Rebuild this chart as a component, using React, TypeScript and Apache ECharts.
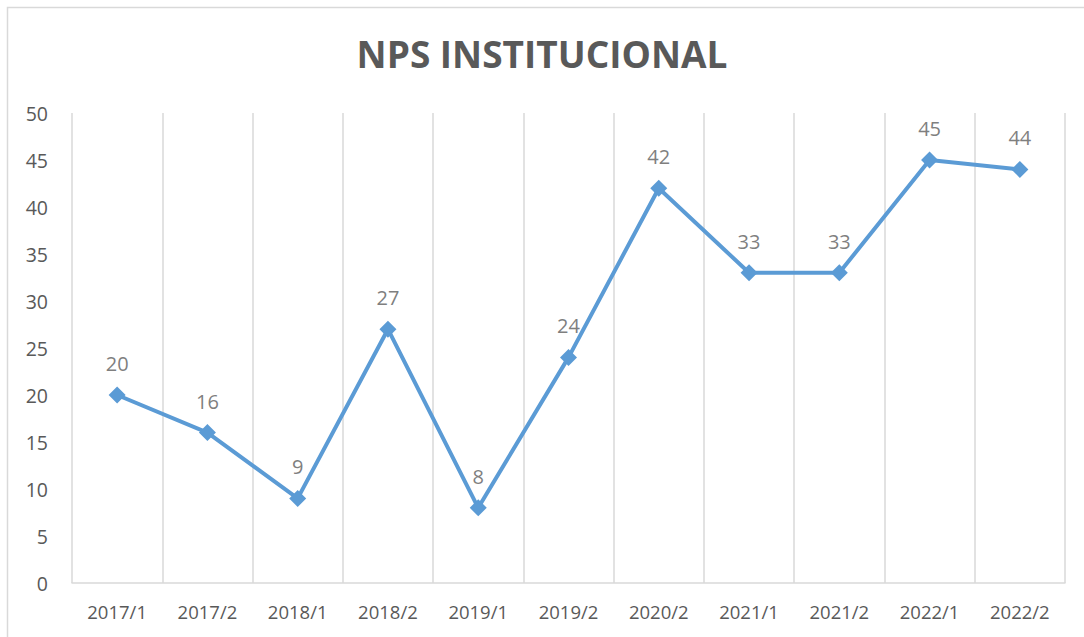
import React, { useEffect, useRef } from "react";
import * as echarts from "echarts";

const categories = ["2017/1", "2017/2", "2018/1", "2018/2", "2019/1", "2019/2", "2020/2", "2021/1", "2021/2", "2022/1", "2022/2"];
const npsValues = [20, 16, 9, 27, 8, 24, 42, 33, 33, 45, 44];
const yTicks = { min: 0, max: 50, interval: 5 };
const title = "NPS INSTITUCIONAL";

export default function App() {
  const ref = useRef<HTMLDivElement>(null);
  useEffect(() => {
    if (!ref.current) return;
    const chart = echarts.init(ref.current, undefined, { renderer: "svg" });
    chart.setOption({
      animation: false,
      backgroundColor: "#ffffff",
      textStyle: { fontFamily: "Open Sans" },
      title: {
        text: title,
        left: "center",
        top: 30,
        textStyle: { fontFamily: "Open Sans", fontSize: 37, fontWeight: "bold", color: "#595959" },
      },
      graphic: [
        {
          type: "rect",
          shape: { x: 7.5, y: 7.5, width: 1200, height: 800 },
          style: { fill: "none", stroke: "#d9d9d9", lineWidth: 1.5 },
          silent: true,
          z: 0,
        },
      ],
      grid: { left: 72, right: 19, top: 113, bottom: 54, containLabel: false },
      xAxis: {
        type: "category",
        data: categories,
        boundaryGap: true,
        axisLine: { show: true, lineStyle: { color: "#d9d9d9", width: 1.5 } },
        axisTick: { show: false },
        axisLabel: { color: "#595959", fontSize: 18.5, margin: 19, fontFamily: "Open Sans" },
        splitLine: { show: true, lineStyle: { color: "#d9d9d9", width: 1.5 } },
      },
      yAxis: {
        type: "value",
        min: yTicks.min,
        max: yTicks.max,
        interval: yTicks.interval,
        axisLine: { show: false },
        axisTick: { show: false },
        splitLine: { show: false },
        axisLabel: { color: "#595959", fontSize: 19.5, margin: 24, fontFamily: "Open Sans" },
      },
      series: [
        {
          type: "line",
          data: npsValues,
          symbol: "diamond",
          symbolSize: 17,
          itemStyle: { color: "#5b9bd5" },
          lineStyle: { color: "#5b9bd5", width: 4 },
          label: {
            show: true,
            position: "top",
            distance: 13,
            color: "#7f7f7f",
            fontSize: 20,
            fontFamily: "Open Sans",
          },
        },
      ],
    });
    return () => chart.dispose();
  }, []);
  return <div ref={ref} style={{ position: "fixed", left: 0, top: 0, width: 1084, height: 637 }} />;
}
